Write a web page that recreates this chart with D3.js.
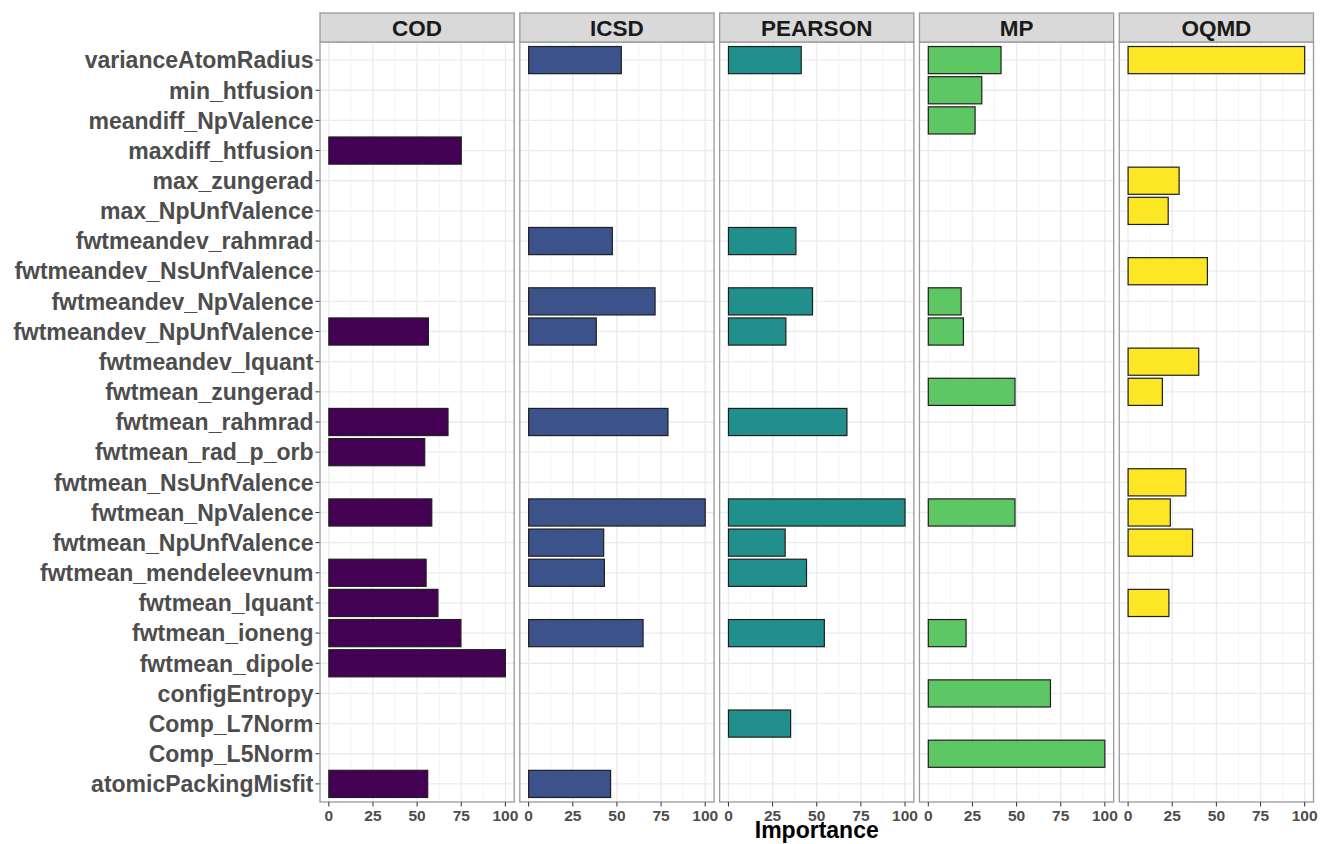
<!DOCTYPE html>
<html>
<head>
<meta charset="utf-8">
<script src="https://cdn.jsdelivr.net/npm/d3@7"></script>
<style>
  html, body { margin: 0; padding: 0; background: #ffffff; }
  svg { display: block; font-family: "Liberation Sans", Arial, sans-serif; }
</style>
</head>
<body>
<svg id="chart" width="1321" height="844"></svg>
<script>
// ---- data ----
const categories = [
  "varianceAtomRadius", "min_htfusion", "meandiff_NpValence", "maxdiff_htfusion",
  "max_zungerad", "max_NpUnfValence", "fwtmeandev_rahmrad", "fwtmeandev_NsUnfValence",
  "fwtmeandev_NpValence", "fwtmeandev_NpUnfValence", "fwtmeandev_lquant", "fwtmean_zungerad",
  "fwtmean_rahmrad", "fwtmean_rad_p_orb", "fwtmean_NsUnfValence", "fwtmean_NpValence",
  "fwtmean_NpUnfValence", "fwtmean_mendeleevnum", "fwtmean_lquant", "fwtmean_ioneng",
  "fwtmean_dipole", "configEntropy", "Comp_L7Norm", "Comp_L5Norm", "atomicPackingMisfit"
];
const datasets = ["COD", "ICSD", "PEARSON", "MP", "OQMD"];
const codValues     = [null,null,null,75,null,null,null,null,null,56.4,null,null,67.5,54.3,null,58.3,null,55.1,61.8,74.8,100,null,null,null,56];
const icsdValues    = [52.5,null,null,null,null,null,47.4,null,71.6,38.3,null,null,78.9,null,null,100,42.5,42.9,null,64.8,null,null,null,null,46.4];
const pearsonValues = [41.2,null,null,null,null,null,38.2,null,47.6,32.5,null,null,67.1,null,null,100,32.1,44.2,null,54.3,null,null,35.2,null,null];
const mpValues      = [41.2,30.3,26.5,null,null,null,null,null,18.6,19.9,null,49.1,null,null,null,49.1,null,null,null,21.4,null,69.2,null,100,null];
const oqmdValues    = [100,null,null,null,28.9,22.7,null,44.9,null,null,40.0,19.4,null,null,32.7,23.9,36.5,null,23.1,null,null,null,null,null,null];
const seriesValues = [codValues, icsdValues, pearsonValues, mpValues, oqmdValues];
const fillColors = ["#440154", "#3B528B", "#21908C", "#5DC863", "#FDE725"];
const xTicks = [0, 25, 50, 75, 100];
const xMinor = [12.5, 37.5, 62.5, 87.5];
const xTitle = "Importance";

// ---- layout ----
const svg = d3.select("#chart");
const plotLeft = 320, plotRight = 1313.5, gap = 5.6;
const stripTop = 13, stripBottom = 42, panelBottom = 802;
const panelW = (plotRight - plotLeft - gap * (datasets.length - 1)) / datasets.length;
const panelH = panelBottom - stripBottom;

const x = d3.scaleLinear().domain([-5, 105]).range([0, panelW]);
const y = d3.scaleBand().domain(categories).range([0, panelH]).paddingInner(0.1).paddingOuter(0.15);
const yc = c => y(c) + y.bandwidth() / 2;

// y axis labels + ticks
const yAxisG = svg.append("g").attr("transform", `translate(${plotLeft},${stripBottom})`);
categories.forEach(c => {
  yAxisG.append("line")
    .attr("x1", -4.5).attr("x2", 0).attr("y1", yc(c)).attr("y2", yc(c))
    .attr("stroke", "#333333").attr("stroke-width", 1);
  yAxisG.append("text")
    .attr("x", -6.5).attr("y", yc(c)).attr("dy", "0.36em")
    .attr("text-anchor", "end")
    .attr("font-size", 23).attr("font-weight", "bold").attr("fill", "#4D4D4D")
    .text(c);
});

datasets.forEach((ds, k) => {
  const px = plotLeft + k * (panelW + gap);
  const g = svg.append("g").attr("transform", `translate(${px},${stripBottom})`);
  g.append("rect").attr("x", 0).attr("y", 0).attr("width", panelW).attr("height", panelH).attr("fill", "#ffffff");
  xMinor.forEach(v => g.append("line")
    .attr("x1", x(v)).attr("x2", x(v)).attr("y1", 0).attr("y2", panelH)
    .attr("stroke", "#F4F4F4").attr("stroke-width", 1));
  xTicks.forEach(v => g.append("line")
    .attr("x1", x(v)).attr("x2", x(v)).attr("y1", 0).attr("y2", panelH)
    .attr("stroke", "#EBEBEB").attr("stroke-width", 1.3));
  categories.forEach(c => g.append("line")
    .attr("x1", 0).attr("x2", panelW).attr("y1", yc(c)).attr("y2", yc(c))
    .attr("stroke", "#EBEBEB").attr("stroke-width", 1.3));
  const vals = seriesValues[k];
  const rows = categories.map((c, i) => ({ c, v: vals[i] })).filter(d => d.v !== null);
  g.selectAll("rect.bar").data(rows).enter().append("rect")
    .attr("class", "bar")
    .attr("x", x(0)).attr("y", d => y(d.c))
    .attr("width", d => x(d.v) - x(0)).attr("height", y.bandwidth())
    .attr("fill", fillColors[k]).attr("stroke", "#1F1F1F").attr("stroke-width", 1.2);
  g.append("rect").attr("x", 0).attr("y", 0).attr("width", panelW).attr("height", panelH)
    .attr("fill", "none").attr("stroke", "#9A9A9A").attr("stroke-width", 1.3);
  svg.append("rect").attr("x", px).attr("y", stripTop).attr("width", panelW).attr("height", stripBottom - stripTop)
    .attr("fill", "#D9D9D9").attr("stroke", "#9A9A9A").attr("stroke-width", 1.3);
  svg.append("text").attr("x", px + panelW / 2).attr("y", (stripTop + stripBottom) / 2).attr("dy", "0.36em")
    .attr("text-anchor", "middle").attr("font-size", 22.5).attr("font-weight", "bold").attr("fill", "#1A1A1A")
    .text(ds);
  const ax = svg.append("g").attr("transform", `translate(${px},${panelBottom})`);
  xTicks.forEach(v => {
    ax.append("line").attr("x1", x(v)).attr("x2", x(v)).attr("y1", 0).attr("y2", 4.5)
      .attr("stroke", "#333333").attr("stroke-width", 1);
    ax.append("text").attr("x", x(v)).attr("y", 19)
      .attr("text-anchor", "middle").attr("font-size", 15.5).attr("font-weight", "bold").attr("fill", "#4D4D4D")
      .text(v);
  });
});

svg.append("text").attr("x", (plotLeft + plotRight) / 2).attr("y", 838)
  .attr("text-anchor", "middle").attr("font-size", 23).attr("font-weight", "bold").attr("fill", "#000000")
  .text(xTitle);
</script>
</body>
</html>
